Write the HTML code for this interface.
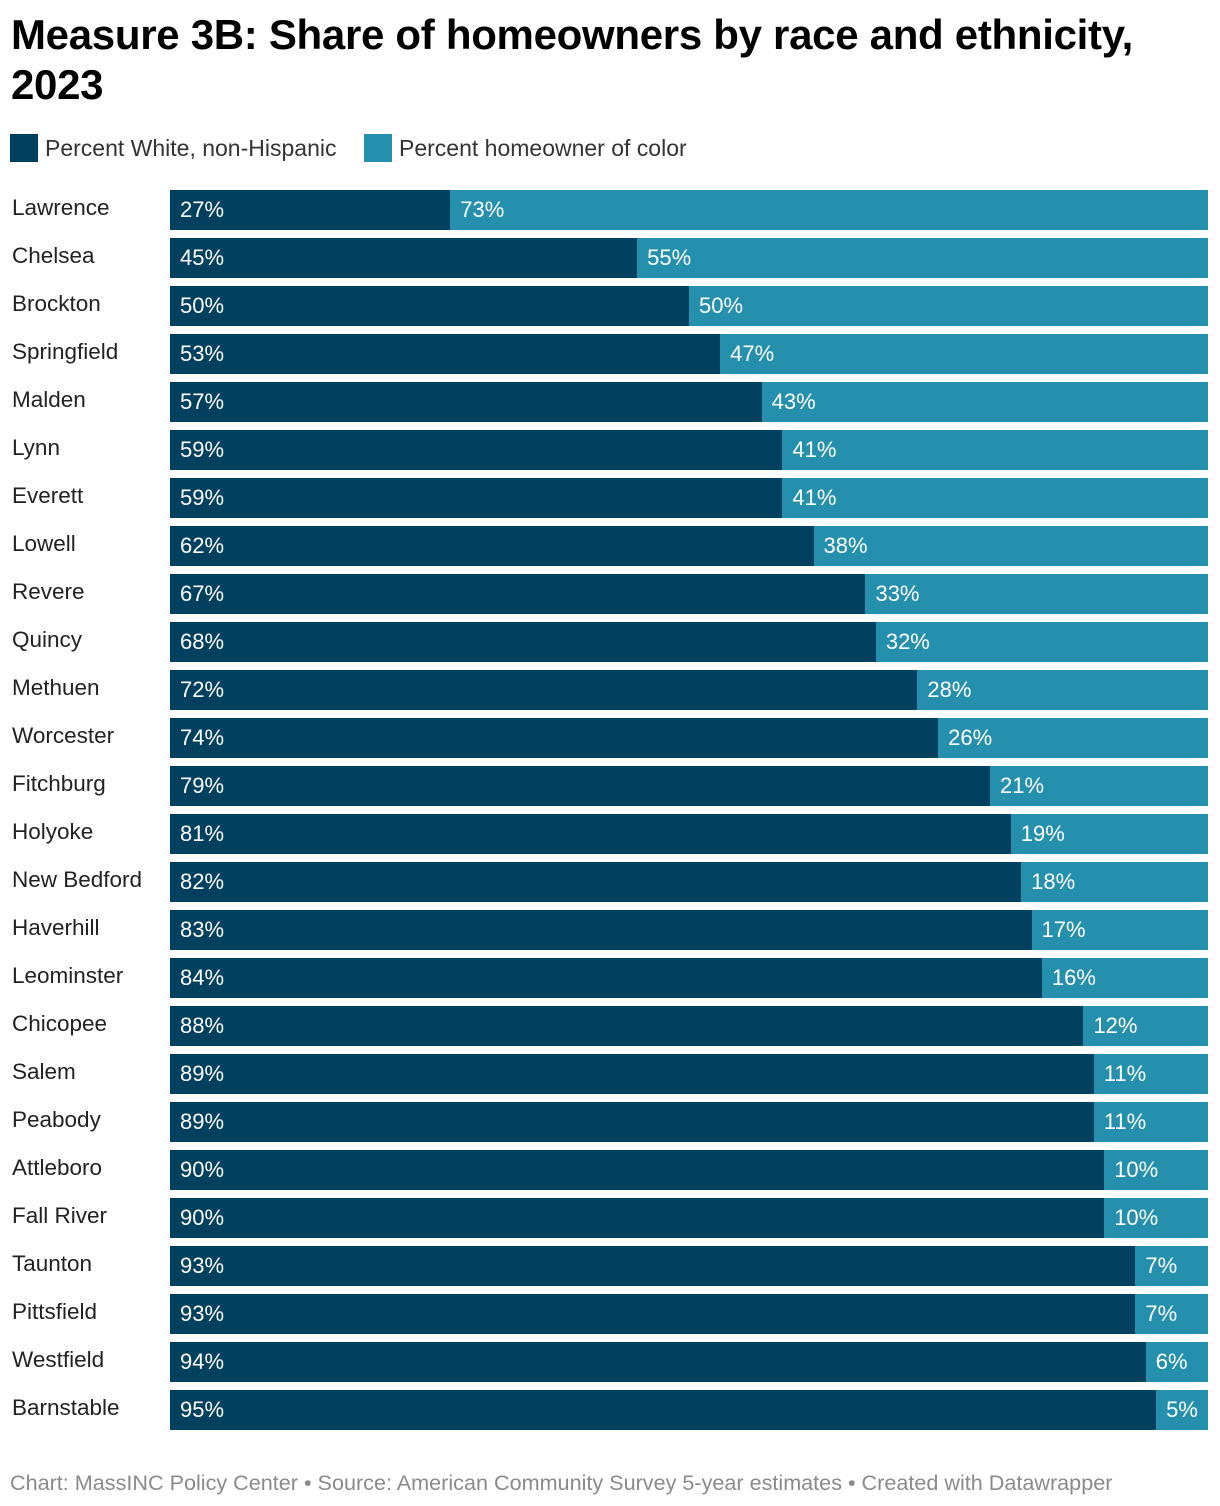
<!DOCTYPE html>
<html><head><meta charset="utf-8"><style>
body{margin:0;width:1220px;height:1506px;background:#fff;font-family:"Liberation Sans",sans-serif;position:relative;overflow:hidden}
h1{position:absolute;left:11px;top:10px;margin:0;font-size:42px;line-height:50px;font-weight:bold;color:#000;letter-spacing:-0.3px;width:1200px}
.leg{position:absolute;top:134px;height:28px;display:flex;align-items:center;font-size:23px;color:#333}
.sw{width:28px;height:28px;margin-right:7px}
.lab{position:absolute;left:12px;font-size:22.5px;color:#222;line-height:40px}
.bar{position:absolute;height:40px}
.val{position:absolute;font-size:22px;color:#fff;line-height:40px}
.foot{position:absolute;left:10px;top:1470px;font-size:21.6px;color:#8a8a8a}
</style></head><body>
<h1>Measure 3B: Share of homeowners by race and ethnicity,<br>2023</h1>
<div class="leg" style="left:10px"><div class="sw" style="background:#01405e"></div>Percent White, non-Hispanic</div>
<div class="leg" style="left:364px"><div class="sw" style="background:#2590ad"></div>Percent homeowner of color</div>
<div id="chart"></div>
<div class="foot">Chart: MassINC Policy Center • Source: American Community Survey 5-year estimates • Created with Datawrapper</div>
<script>
const cities=["Lawrence","Chelsea","Brockton","Springfield","Malden","Lynn","Everett","Lowell","Revere","Quincy","Methuen","Worcester","Fitchburg","Holyoke","New Bedford","Haverhill","Leominster","Chicopee","Salem","Peabody","Attleboro","Fall River","Taunton","Pittsfield","Westfield","Barnstable"];
const white=[27,45,50,53,57,59,59,62,67,68,72,74,79,81,82,83,84,88,89,89,90,90,93,93,94,95];
const color=[73,55,50,47,43,41,41,38,33,32,28,26,21,19,18,17,16,12,11,11,10,10,7,7,6,5];
const X0=170,W=1038,Y0=190,STEP=48;
const x=v=>X0+v/100*W;
const c=document.getElementById('chart');
cities.forEach((name,i)=>{
  const y=Y0+i*STEP;
  const l=document.createElement('div');l.className='lab';l.style.top=(y-2)+'px';l.textContent=name;
  
  
  c.appendChild(l);
  const b1=document.createElement('div');b1.className='bar';
  b1.style.cssText=`left:${X0}px;top:${y}px;width:${x(white[i])-X0}px;background:#01405e`;
  
  
  c.appendChild(b1);
  const b2=document.createElement('div');b2.className='bar';
  b2.style.cssText=`left:${x(white[i])}px;top:${y}px;width:${x(white[i]+color[i])-x(white[i])}px;background:#2590ad`;
  
  
  c.appendChild(b2);
  const v1=document.createElement('div');v1.className='val';v1.style.left=(X0+10)+'px';v1.style.top=y+'px';v1.textContent=white[i]+'%';
  
  
  c.appendChild(v1);
  const v2=document.createElement('div');v2.className='val';v2.style.left=(x(white[i])+10)+'px';v2.style.top=y+'px';v2.textContent=color[i]+'%';
  
  
  c.appendChild(v2);
});
</script>
</body></html>
